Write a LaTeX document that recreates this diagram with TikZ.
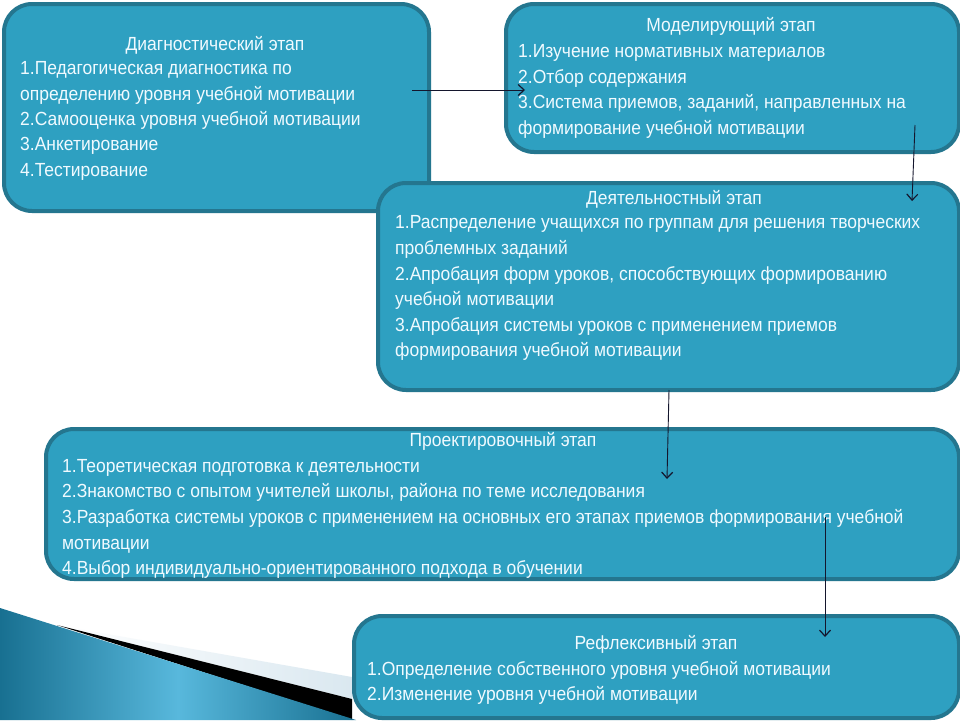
\documentclass[tikz,border=0pt]{standalone}
\usepackage{fontspec}
\setmainfont{Liberation Sans}[FakeStretch=0.92]
\usetikzlibrary{arrows.meta}
\definecolor{boxfill}{RGB}{46,160,193}
\definecolor{boxline}{RGB}{36,118,143}
\definecolor{txt}{RGB}{240,250,255}
\definecolor{arr}{RGB}{20,22,45}
\definecolor{wedgedark}{RGB}{24,112,145}
\definecolor{wedgelight}{RGB}{88,184,220}
\definecolor{stripgrey}{RGB}{218,232,240}
\begin{document}
\begin{tikzpicture}[x=1pt,y=-1pt,
  stagebox/.style={draw=boxline, line width=4pt, fill=boxfill, rounded corners=28pt,
    inner sep=0pt, anchor=north west},
  ttl/.style={anchor=base, text=txt, inner sep=0pt, font=\fontsize{19}{22}\selectfont},
  itm/.style={anchor=base west, text=txt, inner sep=0pt, font=\fontsize{19}{22}\selectfont},
  conn/.style={draw=arr, line width=0.9pt, -{Straight Barb[length=6pt,width=11pt,line width=1.2pt]}}]
\useasboundingbox (0,0) rectangle (960,720);
\fill[white] (0,0) rectangle (960,720);

% decoration bottom left
\shade[left color=white, right color=stripgrey] (90,631) -- (352,677) -- (352,699) -- (57,625) -- cycle;
\fill[black] (57,625) -- (352,699) -- (352,720) -- cycle;
\shade[left color=wedgedark, right color=wedgedark, middle color=wedgelight]
  (0,608) -- (57,626) -- (356,720) -- (0,720) -- cycle;

% boxes
\node[stagebox, minimum width=425pt, minimum height=207pt] (b1) at (2,2) {};
\node[stagebox, minimum width=453pt, minimum height=148pt] (b2) at (504,2) {};
\node[stagebox, minimum width=581pt, minimum height=207pt] (b3) at (376,181) {};
\node[stagebox, minimum width=913pt, minimum height=150pt] (b4) at (44,427) {};
\node[stagebox, minimum width=605pt, minimum height=102pt] (b5) at (352,614) {};

% box 1
\node[ttl] (t1) at (215,50) {Диагностический этап};
\node[itm] (l11) at (20,74) {1.Педагогическая диагностика по};
\node[itm] (l12) at (20,100) {определению уровня учебной мотивации};
\node[itm] (l13) at (20,125) {2.Самооценка уровня учебной мотивации};
\node[itm] (l14) at (20,150) {3.Анкетирование};
\node[itm] (l15) at (20,176) {4.Тестирование};

% box 2
\node[ttl] (t2) at (731,31) {Моделирующий этап};
\node[itm] (l21) at (518,57) {1.Изучение нормативных материалов};
\node[itm] (l22) at (518,83) {2.Отбор содержания};
\node[itm] (l23) at (518,108) {3.Система приемов, заданий, направленных на};
\node[itm] (l24) at (518,134) {формирование учебной мотивации};

% box 3
\node[ttl] (t3) at (674,204) {Деятельностный этап};
\node[itm] (l31) at (395,228) {1.Распределение учащихся по группам для решения творческих};
\node[itm] (l32) at (395,254) {проблемных заданий};
\node[itm] (l33) at (395,280) {2.Апробация форм уроков, способствующих формированию};
\node[itm] (l34) at (395,305) {учебной мотивации};
\node[itm] (l35) at (395,331) {3.Апробация системы уроков с применением приемов};
\node[itm] (l36) at (395,356) {формирования учебной мотивации};

% box 4
\node[ttl] (t4) at (503,446) {Проектировочный этап};
\node[itm] (l41) at (62,472) {1.Теоретическая подготовка к деятельности};
\node[itm] (l42) at (62,497) {2.Знакомство с опытом учителей школы, района по теме исследования};
\node[itm] (l43) at (62,523) {3.Разработка системы уроков с применением на основных его этапах приемов формирования учебной};
\node[itm] (l44) at (62,549) {мотивации};
\node[itm] (l45) at (62,574) {4.Выбор индивидуально-ориентированного подхода в обучении};

% box 5
\node[ttl] (t5) at (656,649) {Рефлексивный этап};
\node[itm] (l51) at (367,675) {1.Определение собственного уровня учебной мотивации};
\node[itm] (l52) at (367,700) {2.Изменение уровня учебной мотивации};

% connectors
\coordinate (a1s) at (412,90);
\coordinate (a1e) at (525,90);
\coordinate (a2s) at (915,125);
\coordinate (a2e) at (912,201);
\coordinate (a3s) at (669,390);
\coordinate (a3e) at (667,479);
\coordinate (a4s) at (825,517);
\coordinate (a4e) at (825,637);
\draw[conn] (a1s) -- (a1e);
\draw[conn] (a2s) -- (a2e);
\draw[conn] (a3s) -- (a3e);
\draw[conn] (a4s) -- (a4e);
\end{tikzpicture}
\end{document}
